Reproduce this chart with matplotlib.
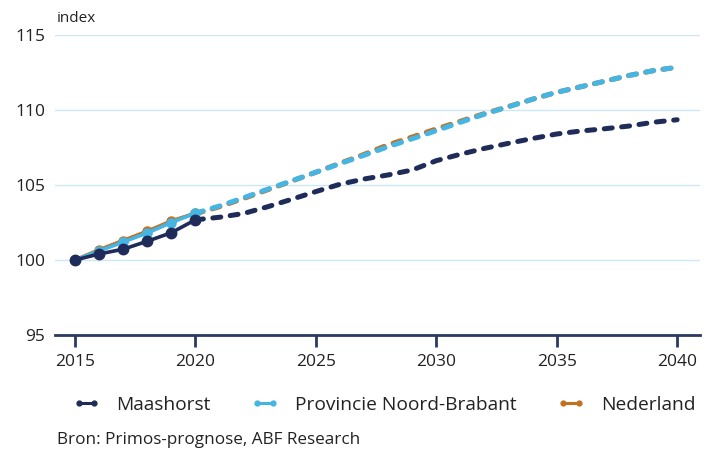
import matplotlib
matplotlib.use("Agg")
import matplotlib.pyplot as plt
from matplotlib.lines import Line2D

plt.rcParams['font.family'] = ['Open Sans', 'DejaVu Sans']

# ---- data ----
hist_years = [2015, 2016, 2017, 2018, 2019, 2020]
maashorst_hist = [100.0, 100.4, 100.72, 101.25, 101.82, 102.68]
provincie_hist = [100.0, 100.6, 101.2, 101.8, 102.5, 103.12]
nederland_hist = [100.0, 100.68, 101.3, 101.92, 102.6, 103.12]

fc_years = list(range(2020, 2041))
maashorst_fc = [102.68, 102.85, 103.1, 103.55, 104.05, 104.56, 105.05, 105.4, 105.67, 106.0,
                106.62, 107.05, 107.44, 107.78, 108.1, 108.4, 108.6, 108.75, 108.93, 109.18, 109.35]
provincie_fc = [103.12, 103.6, 104.15, 104.72, 105.28, 105.85, 106.42, 106.98, 107.55, 108.08,
                108.62, 109.18, 109.72, 110.22, 110.72, 111.18, 111.55, 111.92, 112.3, 112.62, 112.85]
nederland_fc = [103.08, 103.55, 104.1, 104.68, 105.26, 105.85, 106.45, 107.04, 107.68, 108.2,
                108.74, 109.25, 109.76, 110.23, 110.72, 111.18, 111.55, 111.92, 112.3, 112.62, 112.85]

series_names = ["Maashorst", "Provincie Noord-Brabant", "Nederland"]
colors = ["#1f2c5a", "#45b5e3", "#c27122"]
y_ticks = [95, 100, 105, 110, 115]
x_ticks = [2015, 2020, 2025, 2030, 2035, 2040]

fig = plt.figure(figsize=(7.16, 4.5), dpi=100)
ax = fig.add_axes([55/716, 1-335/450, (700-55)/716, (335-35)/450])

hist = [maashorst_hist, provincie_hist, nederland_hist]
fc = [maashorst_fc, provincie_fc, nederland_fc]
zorders = [6, 5, 4]
marker_sizes = [7.5, 6.5, 6.5]
for vals_h, vals_f, c, z, ms in zip(hist, fc, colors, zorders, marker_sizes):
    ax.plot(hist_years, vals_h, color=c, lw=2.6, marker='o', markersize=ms,
            solid_capstyle='round', zorder=z)
    ax.plot(fc_years, vals_f, color=c, lw=3.6, linestyle=(0, (1.6, 1.9)),
            dash_capstyle='round', zorder=z)

ax.set_xlim(2014.17, 2040.95)
ax.set_ylim(95, 115)
ax.set_yticks(y_ticks)
ax.set_xticks(x_ticks)
ax.grid(axis='y', color='#cde7f4', lw=1.0, zorder=0)
ax.set_axisbelow(True)
for s in ['top', 'right', 'left']:
    ax.spines[s].set_visible(False)
ax.spines['bottom'].set_color('#2b3963')
ax.spines['bottom'].set_linewidth(2.0)
ax.tick_params(axis='y', length=0, pad=7, labelsize=12.5, labelcolor='#222222')
ax.tick_params(axis='x', length=8.5, width=2.0, color='#2b3963', pad=5,
               labelsize=12.5, labelcolor='#222222')

fig.text(57/716, 1-18/450, "index", fontsize=11, color='#222222', va='center', ha='left')

handles = [Line2D([0], [0], color=c, lw=2.2, marker='o', markersize=3.5) for c in colors]
leg = fig.legend(handles, series_names, loc='center', bbox_to_anchor=(384/716, 1-405/450),
                 ncol=3, frameon=False, fontsize=13.8, numpoints=2, handlelength=1.4,
                 handletextpad=0.85, columnspacing=2.15)
for t in leg.get_texts():
    t.set_color('#222222')

fig.text(57/716, 1-440/450, "Bron: Primos-prognose, ABF Research", fontsize=12.3,
         color='#222222', va='center', ha='left')

fig.savefig("out.png", dpi=100)
